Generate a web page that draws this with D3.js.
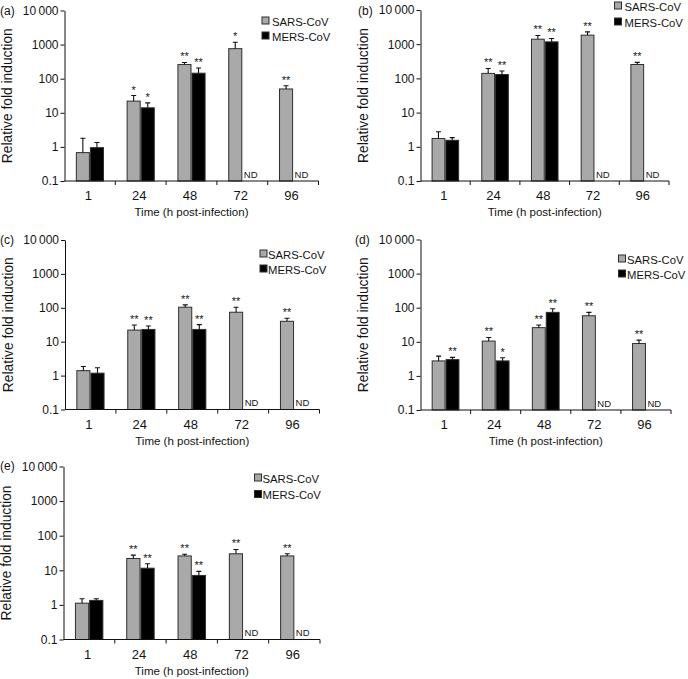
<!DOCTYPE html>
<html><head><meta charset="utf-8">
<script src="https://cdn.jsdelivr.net/npm/d3@7"></script>
<style>
body{margin:0;background:#fff}
svg{display:block}
text{font-family:"Liberation Sans",Arial,Helvetica,sans-serif;fill:#141414}
</style>
</head><body>
<svg id="chart" width="688" height="679"></svg>
<script>
// ---------- data ----------
const categories = ["1", "24", "48", "72", "96"];
const seriesNames = ["SARS-CoV", "MERS-CoV"];
const yTickValues = [0.1, 1, 10, 100, 1000, 10000];
const yTickLabels = ["0.1", "1", "10", "100", "1000", "10\u2009000"];
const panelLabels = ["(a)", "(b)", "(c)", "(d)", "(e)"];
const xTitle = "Time (h post-infection)";
const yTitle = "Relative fold induction";
const ndLabel = "ND";

// (a)
const sarsA = [0.68, 22, 260, 760, 50];
const sarsAUpper = [1.8, 32, 300, 1170, 62];
const mersA = [0.95, 14, 145, null, null];
const mersAUpper = [1.35, 19.5, 205, null, null];
const sarsAStars = ["", "*", "**", "*", "**"];
const mersAStars = ["", "*", "**", "", ""];
// (b)
const sarsB = [1.75, 140, 1400, 1840, 255];
const sarsBUpper = [2.75, 195, 1800, 2300, 295];
const mersB = [1.55, 130, 1170, null, null];
const mersBUpper = [1.85, 165, 1470, null, null];
const sarsBStars = ["", "**", "**", "**", "**"];
const mersBStars = ["", "**", "**", "", ""];
// (c)
const sarsC = [1.4, 22, 104, 74, 40];
const sarsCUpper = [1.85, 31, 122, 104, 49];
const mersC = [1.18, 23, 23, null, null];
const mersCUpper = [1.7, 29, 32, null, null];
const sarsCStars = ["", "**", "**", "**", "**"];
const mersCStars = ["", "**", "**", "", ""];
// (d)
const sarsD = [2.75, 10.5, 26, 58, 8.9];
const sarsDUpper = [3.8, 13.4, 31, 73, 11.2];
const mersD = [3.0, 2.75, 73, null, null];
const mersDUpper = [3.5, 3.4, 93, null, null];
const sarsDStars = ["", "**", "**", "**", "**"];
const mersDStars = ["**", "*", "**", "", ""];
// (e)
const sarsE = [1.12, 22, 26, 30, 26];
const sarsEUpper = [1.5, 27.5, 29, 40, 30];
const mersE = [1.35, 11.5, 7.1, null, null];
const mersEUpper = [1.5, 15.4, 9.3, null, null];
const sarsEStars = ["", "**", "**", "**", "**"];
const mersEStars = ["", "**", "**", "", ""];

// ---------- layout ----------
const panels = [
  {label: panelLabels[0], sars: sarsA, sarsUp: sarsAUpper, mers: mersA, mersUp: mersAUpper, sSt: sarsAStars, mSt: mersAStars,
   x0: 64.5, x1: 318.5, yTop: 10.5, yBot: 181, lab: [0, 15], leg: {sq: 261.5, tx: 272, b1: 25.5, b2: 40.5}},
  {label: panelLabels[1], sars: sarsB, sarsUp: sarsBUpper, mers: mersB, mersUp: mersBUpper, sSt: sarsBStars, mSt: mersBStars,
   x0: 420.5, x1: 669, yTop: 10, yBot: 181, lab: [358, 15], leg: {sq: 614, tx: 624.5, b1: 10.5, b2: 26.5}},
  {label: panelLabels[2], sars: sarsC, sarsUp: sarsCUpper, mers: mersC, mersUp: mersCUpper, sSt: sarsCStars, mSt: mersCStars,
   x0: 65, x1: 319.5, yTop: 240, yBot: 409.5, lab: [0, 244], leg: {sq: 259.5, tx: 268, b1: 258.5, b2: 273.5}},
  {label: panelLabels[3], sars: sarsD, sarsUp: sarsDUpper, mers: mersD, mersUp: mersDUpper, sSt: sarsDStars, mSt: mersDStars,
   x0: 420.5, x1: 671, yTop: 239.5, yBot: 410, lab: [355, 244], leg: {sq: 618, tx: 627, b1: 263.5, b2: 278.5}},
  {label: panelLabels[4], sars: sarsE, sarsUp: sarsEUpper, mers: mersE, mersUp: mersEUpper, sSt: sarsEStars, mSt: mersEStars,
   x0: 63.5, x1: 320, yTop: 466.5, yBot: 639.5, lab: [0, 470], leg: {sq: 254, tx: 262.5, b1: 482.5, b2: 499}}
];

const colors = ["#a9a9a9", "#000000"];
const svg = d3.select("#chart");

panels.forEach(p => {
  const g = svg.append("g");
  const x = d3.scaleBand().domain(categories).range([p.x0, p.x1]).padding(0);
  const y = d3.scaleLog().domain([0.1, 10000]).range([p.yBot, p.yTop]);
  const bw = x.bandwidth() * 0.277;
  const cx = c => x(c) + x.bandwidth() / 2;

  const series = [
    {vals: p.sars, up: p.sarsUp, stars: p.sSt, off: -bw, color: colors[0]},
    {vals: p.mers, up: p.mersUp, stars: p.mSt, off: 0, color: colors[1]}
  ];

  series.forEach((s, si) => {
    const data = categories.map((c, i) => ({c, v: s.vals[i], u: s.up[i], st: s.stars[i]}));
    const valid = data.filter(d => d.v != null);
    // bars
    g.selectAll(null).data(valid).enter().append("rect")
      .attr("x", d => cx(d.c) + s.off + 0.5)
      .attr("y", d => y(d.v))
      .attr("width", bw - 1)
      .attr("height", d => p.yBot - y(d.v))
      .attr("fill", s.color)
      .attr("stroke", "#2e2e2e")
      .attr("stroke-width", 1);
    // error bars (upper only)
    g.selectAll(null).data(valid).enter().append("path")
      .attr("d", d => {
        const xc = cx(d.c) + s.off + bw / 2;
        return `M${xc},${y(d.v)}V${y(d.u)}M${xc - 2.5},${y(d.u)}H${xc + 2.5}`;
      })
      .attr("stroke", "#111").attr("stroke-width", 1.1).attr("fill", "none");
    // significance stars
    g.selectAll(null).data(valid.filter(d => d.st)).enter().append("text")
      .attr("x", d => cx(d.c) + s.off + bw / 2)
      .attr("y", d => y(d.u) - 2)
      .attr("text-anchor", "middle")
      .style("font-size", "11px")
      .text(d => d.st);
    // not determined
    g.selectAll(null).data(data.filter(d => d.v == null)).enter().append("text")
      .attr("x", d => cx(d.c) + s.off + 1.5)
      .attr("y", p.yBot - 3.5)
      .style("font-size", "9.5px")
      .text(ndLabel);
  });

  // y axis
  const ya = g.append("g").attr("transform", `translate(${p.x0},0)`)
    .call(d3.axisLeft(y).tickValues(yTickValues).tickFormat((d, i) => yTickLabels[i])
      .tickSize(4).tickSizeOuter(0).tickPadding(2));
  ya.selectAll("text").style("font-size", "12px").attr("fill", "#141414").style("font-family", "'Liberation Sans',Arial,sans-serif");
  ya.selectAll("line,path").attr("stroke", "#111");

  // x axis
  const xa = g.append("g");
  xa.append("path").attr("d", `M${p.x0},${p.yBot}H${p.x1}`).attr("stroke", "#111").attr("fill", "none");
  xa.selectAll(null).data(categories).enter().append("line")
    .attr("x1", d => x(d) + x.bandwidth()).attr("x2", d => x(d) + x.bandwidth())
    .attr("y1", p.yBot).attr("y2", p.yBot + 4).attr("stroke", "#111");
  xa.selectAll(null).data(categories).enter().append("text")
    .attr("x", d => cx(d) - 1.5).attr("y", p.yBot + 19)
    .attr("text-anchor", "middle").style("font-size", "13px").text(d => d);

  // titles
  g.append("text").attr("x", (p.x0 + p.x1) / 2).attr("y", p.yBot + 35)
    .attr("text-anchor", "middle").style("font-size", "11.5px").text(xTitle);
  g.append("text")
    .attr("transform", `translate(${p.x0 - 52.5},${(p.yTop + p.yBot) / 2}) rotate(-90)`)
    .attr("text-anchor", "middle").style("font-size", "13.8px").text(yTitle);
  g.append("text").attr("x", p.lab[0]).attr("y", p.lab[1]).style("font-size", "12px").text(p.label);

  // legend
  const lg = g.append("g");
  [p.leg.b1, p.leg.b2].forEach((b, i) => {
    lg.append("rect").attr("x", p.leg.sq + 0.5).attr("y", b - 8.5).attr("width", 7).attr("height", 7)
      .attr("fill", colors[i]).attr("stroke", "#2e2e2e").attr("stroke-width", 1);
    lg.append("text").attr("x", p.leg.tx).attr("y", b).style("font-size", "11.3px").text(seriesNames[i]);
  });
});
</script>
</body></html>
